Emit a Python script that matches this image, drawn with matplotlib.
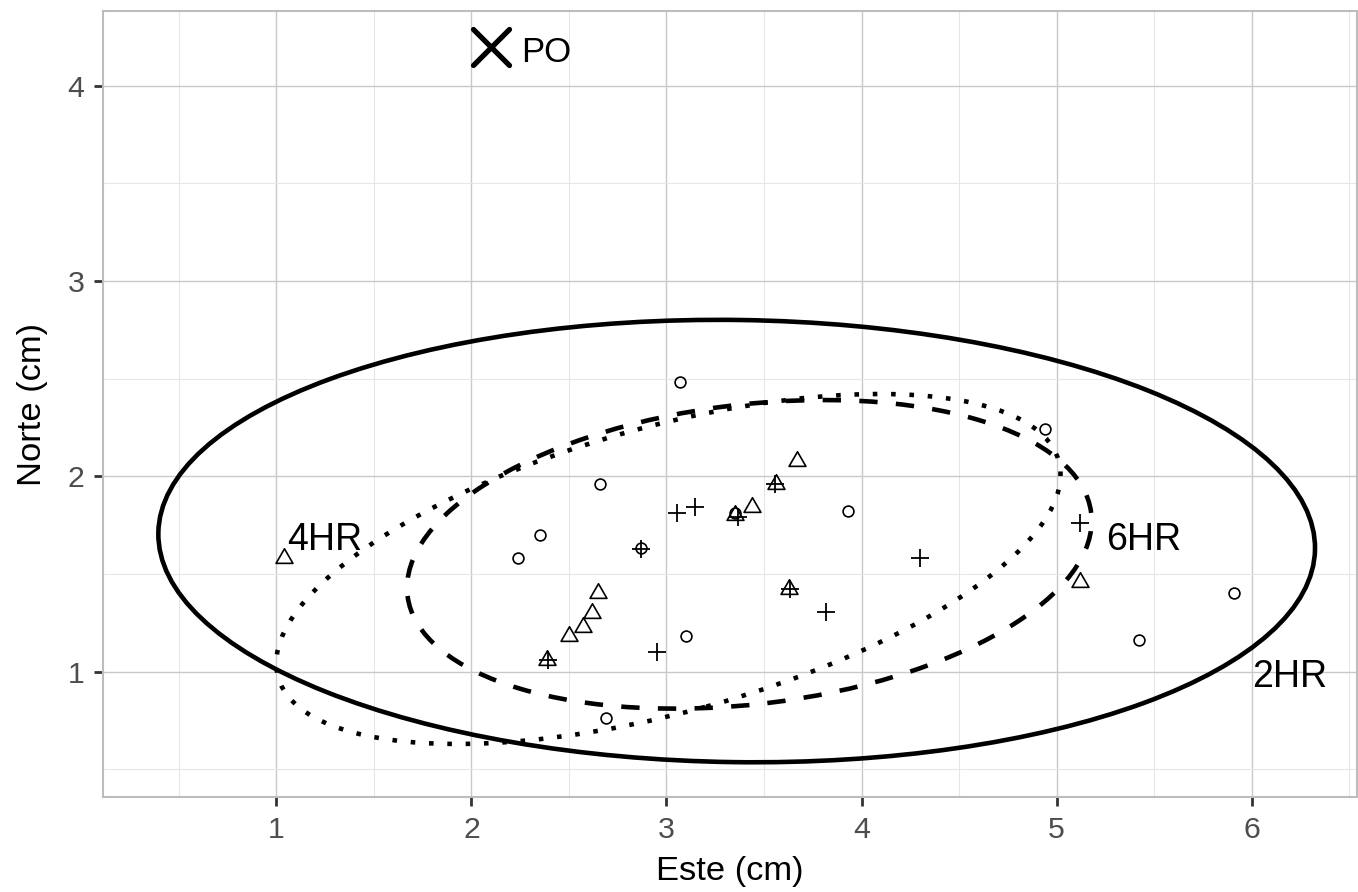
import matplotlib
matplotlib.use("Agg")
import matplotlib.pyplot as plt
from matplotlib.patches import Ellipse
from matplotlib.markers import MarkerStyle
from matplotlib.path import Path
import numpy as np

plt.rcParams['font.family'] = ['Liberation Sans', 'DejaVu Sans']

# ---- data ----
circ_x = [3.07, 4.94, 2.66, 2.35, 2.24, 2.87, 3.35, 3.93, 5.91, 5.42, 3.10, 2.69]
circ_y = [2.48, 2.24, 1.96, 1.70, 1.58, 1.63, 1.81, 1.82, 1.40, 1.16, 1.18, 0.76]

tri_x = [1.04, 2.39, 2.50, 2.57, 2.62, 2.65, 3.35, 3.44, 3.56, 3.67, 3.63, 5.12]
tri_y = [1.58, 1.06, 1.18, 1.23, 1.30, 1.40, 1.80, 1.84, 1.96, 2.08, 1.425, 1.46]

plus_x = [3.055, 3.145, 3.365, 3.558, 2.867, 2.393, 3.631, 3.817, 2.953, 4.302, 5.118]
plus_y = [1.81, 1.84, 1.789, 1.96, 1.629, 1.06, 1.425, 1.304, 1.099, 1.581, 1.759]

# ellipses: 2HR (solid), 4HR (dotted), 6HR (dashed)
ell_names = ['2HR', '4HR', '6HR']
ell_cx = [3.36, 3.01, 3.425]
ell_cy = [1.668, 1.525, 1.60]
ell_a = [2.965, 2.076, 1.765]
ell_b = [1.132, 0.731, 0.767]
ell_angle = [-0.8, 15.46, 6.9]
ell_style = ['-', (0, (1, 3)), (0, (4, 4))]

label_text = ['2HR', '6HR', '4HR', 'PO']
label_x = [6.196, 5.444, 1.247, 2.385]
label_y = [0.923, 1.623, 1.623, 4.123]
label_size = [27, 27, 27, 25]

po_x = [2.10]
po_y = [4.20]

xlim = (0.110, 6.540)
ylim = (0.356, 4.382)

# ---- figure ----
W, H = 1358, 892
fig = plt.figure(figsize=(W / 100, H / 100), dpi=100)
ax = fig.add_axes([102.7 / W, (H - 797.3) / H, (1357 - 102.7) / W, (797.3 - 11) / H])

ax.set_xlim(*xlim)
ax.set_ylim(*ylim)
ax.set_xticks([1, 2, 3, 4, 5, 6])
ax.set_yticks([1, 2, 3, 4])
ax.set_xticks(np.arange(0.5, 6.6, 1.0), minor=True)
ax.set_yticks(np.arange(0.5, 4.0, 1.0), minor=True)

ax.set_axisbelow(True)
ax.grid(which='major', color='#c9c9c9', linewidth=1.0)
ax.grid(which='minor', color='#e6e6e6', linewidth=0.75)

for s in ax.spines.values():
    s.set_color('#bdbdbd')
    s.set_linewidth(1.5)
    s.set_zorder(10)

ax.tick_params(which='major', length=6.8, width=2.0, color='#333333',
               labelsize=21.8, labelcolor='#4d4d4d', pad=6.5)
ax.tick_params(which='minor', length=0)

for cx, cy, a, b, ang, ls in zip(ell_cx, ell_cy, ell_a, ell_b, ell_angle, ell_style):
    e = Ellipse((cx, cy), 2 * a, 2 * b, angle=ang, fill=False,
                edgecolor='black', linewidth=3.3, linestyle=ls, zorder=3)
    e.set_capstyle('butt')
    ax.add_patch(e)

tri_verts = [(0, 1.5551), (1.3468, -0.7776), (-1.3468, -0.7776), (0, 1.5551)]
tri_marker = MarkerStyle(Path(tri_verts, [Path.MOVETO, Path.LINETO, Path.LINETO, Path.CLOSEPOLY]))

ax.plot(circ_x, circ_y, linestyle='none', marker='o', markersize=7.8,
        markerfacecolor='none', markeredgecolor='black', markeredgewidth=1.2, zorder=4)
ax.plot(tri_x, tri_y, linestyle='none', marker=tri_marker, markersize=14.0,
        markerfacecolor='none', markeredgecolor='black', markeredgewidth=1.2, zorder=4)
ax.plot(plus_x, plus_y, linestyle='none', marker='+', markersize=13.3,
        markeredgecolor='black', markeredgewidth=1.3, zorder=4)

ax.plot(po_x, po_y, linestyle='none', marker=MarkerStyle('x', capstyle='round'),
        markersize=26, markeredgewidth=3.8, color='black', zorder=5)

for t, x, y, fs in zip(label_text, label_x, label_y, label_size):
    ax.text(x, y, t, ha='center', va='baseline', fontsize=fs, color='black', zorder=6)

ax.set_xlabel('Este (cm)', fontsize=24.8, color='black', labelpad=9)
ax.set_ylabel('Norte (cm)', fontsize=24.8, color='black', labelpad=14)

fig.savefig('out.png', dpi=100)
